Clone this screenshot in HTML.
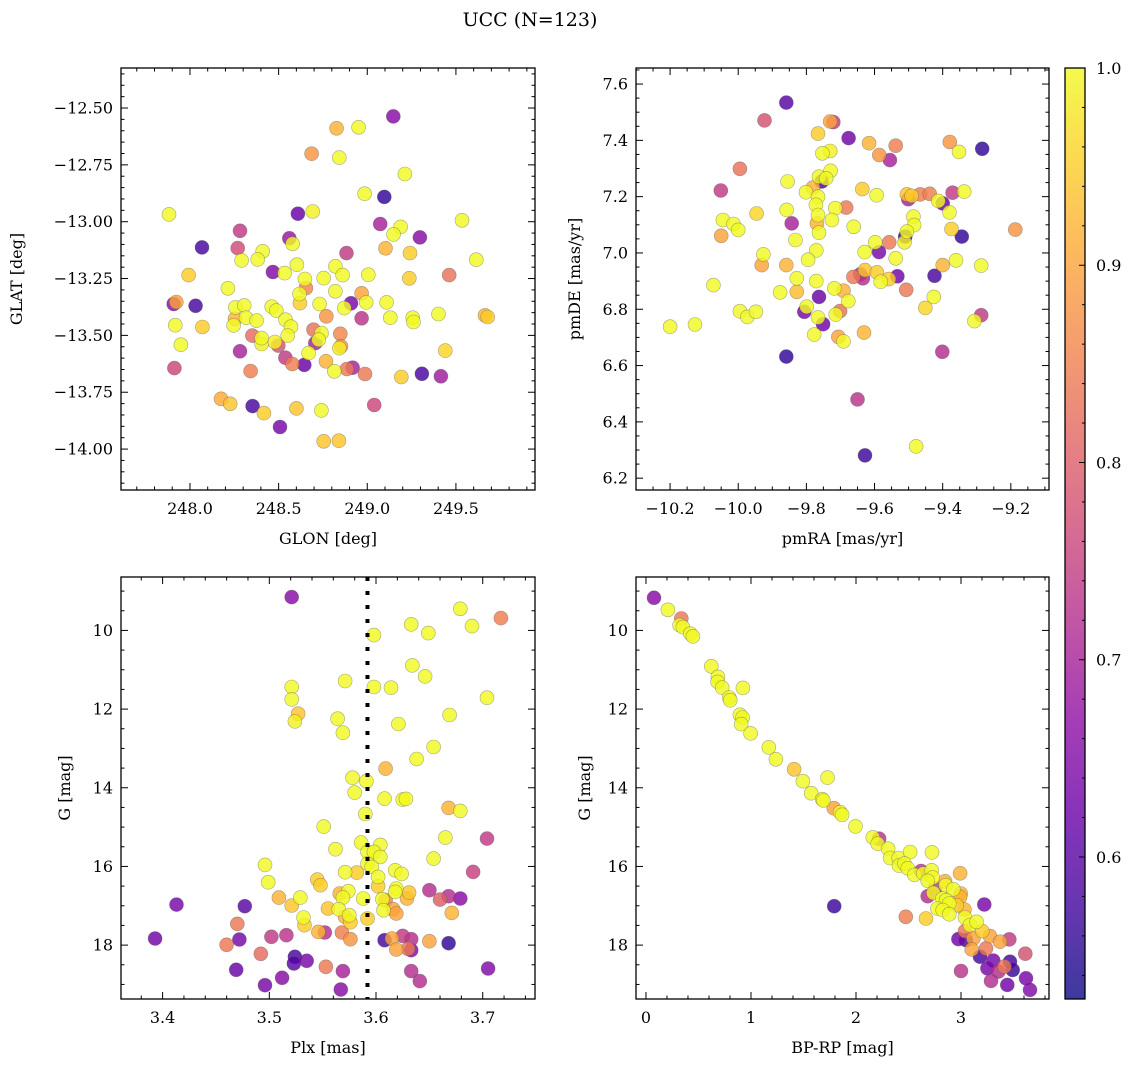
<!DOCTYPE html>
<html><head><meta charset="utf-8"><style>
html,body{margin:0;padding:0;background:#fff;}
svg text{font-family:"DejaVu Serif","Liberation Serif",serif;fill:#000;}
</style></head><body>
<svg id="fig" width="1136" height="1067" viewBox="0 0 1136 1067" xmlns="http://www.w3.org/2000/svg">
<defs>
<linearGradient id="plasma" x1="0" y1="1" x2="0" y2="0">
<stop offset="0" stop-color="#0d0887"/><stop offset="0.1" stop-color="#41049d"/><stop offset="0.2" stop-color="#6a00a8"/><stop offset="0.3" stop-color="#8f0da4"/><stop offset="0.4" stop-color="#b12a90"/><stop offset="0.5" stop-color="#cc4778"/><stop offset="0.6" stop-color="#e16462"/><stop offset="0.7" stop-color="#f2844b"/><stop offset="0.8" stop-color="#fca636"/><stop offset="0.9" stop-color="#fcce25"/><stop offset="1" stop-color="#f0f921"/>
</linearGradient>
</defs>
<text x="530" y="26" font-size="19" text-anchor="middle">UCC (N=123)</text>
</svg>
<script>
// ---- Panel 1 data: GLON / GLAT ----
const p1Lon=[249.147,248.827,248.951,248.686,248.842,249.212,248.985,249.096,247.882,248.609,248.692,249.534,249.073,249.188,249.148,249.297,248.282,248.068,248.560,248.579,248.269,248.410,248.382,248.291,248.883,249.103,249.241,249.615,247.992,248.468,248.534,248.603,248.820,248.861,249.006,249.462,248.754,248.648,248.654,249.237,248.214,248.820,248.618,248.620,248.968,248.908,248.994,249.109,248.731,248.870,247.908,247.923,248.032,248.256,248.306,248.461,248.487,248.254,248.316,248.376,248.539,248.570,248.769,248.968,249.130,249.256,249.261,249.402,249.664,249.679,247.917,248.070,248.246,248.352,248.404,248.404,248.479,248.498,248.551,248.697,248.742,248.707,248.726,248.848,248.852,248.842,247.949,248.282,248.669,248.538,248.577,248.645,248.767,248.814,248.885,248.917,248.987,249.192,249.308,249.415,249.440,247.912,248.342,248.175,248.227,248.353,248.417,248.600,248.741,249.039,248.508,248.754,248.840];
const p1Lat=[-12.537,-12.589,-12.585,-12.701,-12.718,-12.790,-12.877,-12.891,-12.968,-12.965,-12.955,-12.994,-13.010,-13.023,-13.056,-13.069,-13.040,-13.113,-13.073,-13.097,-13.116,-13.130,-13.166,-13.170,-13.138,-13.117,-13.138,-13.167,-13.235,-13.221,-13.226,-13.189,-13.196,-13.235,-13.233,-13.235,-13.248,-13.252,-13.292,-13.249,-13.293,-13.306,-13.318,-13.358,-13.315,-13.359,-13.355,-13.355,-13.362,-13.380,-13.362,-13.353,-13.370,-13.377,-13.368,-13.374,-13.391,-13.427,-13.422,-13.435,-13.431,-13.462,-13.416,-13.425,-13.422,-13.422,-13.441,-13.406,-13.412,-13.419,-13.455,-13.463,-13.456,-13.501,-13.512,-13.538,-13.529,-13.545,-13.501,-13.475,-13.490,-13.534,-13.519,-13.493,-13.548,-13.556,-13.541,-13.570,-13.578,-13.598,-13.626,-13.630,-13.614,-13.658,-13.648,-13.642,-13.670,-13.683,-13.669,-13.680,-13.567,-13.644,-13.657,-13.779,-13.801,-13.811,-13.842,-13.821,-13.830,-13.806,-13.903,-13.966,-13.963];
const p1Prob=[.66,.92,1,.88,1,1,1,.56,1,.62,.99,1,.70,1,1,.66,.74,.58,.68,1,.77,1,1,1,.74,.92,.95,1,.95,.65,1,1,1,1,1,.83,1,1,.86,.95,1,1,1,.95,.90,.64,1,1,1,1,.66,.90,.58,1,1,1,1,.92,1,1,1,1,.88,.73,1,1,1,1,.92,.95,1,.95,1,.82,1,.99,.99,.78,1,.83,1,.70,1,.86,.88,.99,1,.70,1,.74,.85,.62,.92,1,.84,.70,.84,.95,.58,.69,.96,.76,.85,.91,.94,.58,.95,.94,1,.76,.64,.94,.94];
// ---- Panel 2 data: pmRA / pmDE ----
const p2Ra=[-9.859,-9.923,-9.730,-9.721,-9.766,-9.676,-9.616,-9.538,-9.379,-9.352,-9.284,-9.753,-9.730,-9.586,-9.555,-9.995,-9.729,-9.763,-9.755,-9.742,-9.855,-10.051,-9.801,-9.781,-9.766,-9.636,-9.594,-9.501,-9.505,-9.491,-9.466,-9.438,-9.400,-9.413,-9.371,-9.337,-10.045,-10.014,-10.000,-10.050,-9.946,-9.858,-9.843,-9.772,-9.766,-9.769,-9.763,-9.715,-9.683,-9.725,-9.661,-9.832,-9.380,-9.374,-9.344,-9.486,-9.484,-9.510,-9.505,-9.512,-9.557,-9.598,-9.926,-9.931,-9.859,-9.771,-9.795,-9.629,-9.587,-9.538,-9.400,-9.361,-9.287,-10.073,-9.828,-9.771,-9.877,-9.828,-9.662,-9.642,-9.634,-9.628,-9.593,-9.582,-9.558,-9.533,-9.507,-9.424,-9.426,-9.451,-9.287,-9.307,-9.763,-9.718,-9.691,-9.677,-9.799,-9.806,-9.766,-9.751,-9.701,-9.714,-9.777,-9.706,-9.691,-9.631,-9.995,-9.973,-9.948,-10.200,-10.127,-9.859,-9.401,-9.650,-9.478,-9.628,-9.187];
const p2De=[7.534,7.471,7.467,7.465,7.424,7.408,7.390,7.381,7.394,7.359,7.370,7.354,7.362,7.348,7.330,7.299,7.292,7.271,7.254,7.265,7.254,7.222,7.216,7.232,7.200,7.227,7.205,7.191,7.208,7.203,7.208,7.210,7.176,7.185,7.214,7.218,7.117,7.103,7.082,7.061,7.140,7.153,7.105,7.171,7.135,7.105,7.072,7.159,7.161,7.117,7.093,7.046,7.144,7.085,7.058,7.129,7.099,7.058,7.076,7.038,7.038,7.038,6.995,6.957,6.957,7.009,6.976,7.003,7.003,6.981,6.957,6.974,6.955,6.886,6.910,6.900,6.860,6.862,6.915,6.924,6.910,6.939,6.931,6.898,6.907,6.917,6.869,6.919,6.844,6.805,6.779,6.758,6.844,6.874,6.866,6.829,6.809,6.791,6.771,6.747,6.794,6.781,6.710,6.702,6.686,6.717,6.793,6.773,6.791,6.738,6.746,6.632,6.649,6.480,6.313,6.281,7.083];
const p2Prob=[.60,.78,.90,.74,.95,.63,.92,.85,.88,1,.56,1,.99,.88,.70,.83,1,1,.58,1,1,.74,1,.92,1,.95,1,.70,.94,.95,.85,.85,.62,1,.74,1,1,1,1,.90,.96,1,.70,1,1,.92,1,1,.84,1,1,1,1,.95,.56,1,1,.57,1,.99,.84,1,1,.90,.92,1,1,1,.64,1,.92,1,1,1,1,1,1,.93,.84,.72,.72,.94,.95,1,.95,.63,.84,.58,1,.96,.74,1,.62,1,.92,1,1,.64,1,.63,.83,1,1,.90,1,.92,1,1,1,1,1,.56,.72,.73,1,.57,.88];
// ---- Panel 3 data: Plx / G ----
const p3Plx=[3.521,3.679,3.717,3.633,3.690,3.649,3.598,3.634,3.646,3.571,3.521,3.598,3.614,3.704,3.521,3.527,3.524,3.564,3.569,3.669,3.621,3.654,3.638,3.609,3.578,3.591,3.580,3.608,3.625,3.628,3.668,3.679,3.590,3.551,3.665,3.704,3.586,3.604,3.562,3.592,3.598,3.604,3.654,3.592,3.596,3.496,3.691,3.571,3.582,3.618,3.624,3.602,3.499,3.545,3.548,3.602,3.619,3.618,3.631,3.629,3.650,3.574,3.566,3.569,3.588,3.606,3.609,3.660,3.668,3.679,3.509,3.529,3.413,3.477,3.521,3.555,3.565,3.607,3.616,3.619,3.671,3.571,3.575,3.576,3.532,3.533,3.592,3.470,3.546,3.552,3.568,3.576,3.393,3.472,3.502,3.516,3.460,3.608,3.615,3.625,3.633,3.650,3.668,3.619,3.630,3.633,3.492,3.524,3.523,3.535,3.469,3.553,3.569,3.633,3.705,3.641,3.512,3.496,3.567];
const p3G=[9.153,9.450,9.687,9.848,9.890,10.068,10.119,10.889,11.169,11.287,11.439,11.439,11.456,11.710,11.753,12.117,12.312,12.244,12.600,12.151,12.379,12.964,13.268,13.514,13.743,13.836,14.124,14.276,14.301,14.284,14.513,14.589,14.666,14.987,15.267,15.292,15.394,15.453,15.563,15.631,15.631,15.758,15.800,15.927,16.012,15.961,16.139,16.147,16.156,16.097,16.190,16.266,16.401,16.334,16.478,16.503,16.562,16.647,16.664,16.816,16.605,16.630,16.689,16.791,16.816,16.833,16.859,16.842,16.757,16.816,16.791,16.791,16.969,17.011,16.994,17.070,17.087,17.113,17.087,17.197,17.180,17.282,17.240,17.417,17.299,17.494,17.324,17.460,17.663,17.680,17.680,17.849,17.832,17.858,17.790,17.748,17.993,17.875,17.832,17.765,17.849,17.900,17.951,18.112,18.095,18.129,18.222,18.298,18.467,18.400,18.628,18.552,18.662,18.662,18.594,18.916,18.832,19.018,19.128];
const p3Prob=[.66,1,.85,1,1,1,1,1,1,1,1,1,1,1,1,.94,.99,1,1,1,1,1,1,.92,1,1,1,1,1,1,.92,1,1,1,1,.74,1,1,1,1,1,1,1,1,1,1,.75,1,.95,1,1,1,1,.95,.95,.95,1,1,.94,.92,.72,1,.92,1,1,1,.86,.80,.72,.66,.92,1,.64,.60,.94,.94,1,1,.90,.90,.92,.92,1,.95,1,.95,.95,.84,.92,.72,.85,.88,.63,.64,.74,.73,.84,.58,.90,.74,.72,.90,.56,.90,.84,.65,.82,.58,.60,.64,.62,.84,.70,.72,.65,.72,.66,.64,.66];
const plxMean=3.592;
// ---- Panel 4 data: BP-RP / G ----
const p4Col=[0.076,0.209,0.336,0.320,0.352,0.422,0.447,0.622,0.685,0.682,0.726,0.923,0.793,0.802,0.894,0.920,0.907,0.996,1.170,1.237,1.411,1.494,1.729,1.573,1.678,1.690,1.789,1.849,1.868,1.995,2.160,2.220,2.207,2.306,2.325,2.407,2.515,2.724,2.410,2.461,2.493,2.556,2.620,2.642,2.721,2.731,2.683,2.991,2.753,2.683,2.737,2.848,2.854,2.927,2.997,2.991,2.823,2.858,2.889,2.959,2.775,2.826,2.889,3.032,3.038,3.086,3.149,3.222,2.474,2.667,1.792,3.203,3.038,3.276,3.118,2.975,3.048,3.371,3.460,3.102,3.238,3.181,3.308,3.467,3.492,3.251,3.356,3.413,3.000,3.612,3.619,3.286,3.441,3.657];
const p4G=[9.172,9.476,9.696,9.865,9.916,10.084,10.152,10.912,11.182,11.309,11.453,11.461,11.706,11.774,12.145,12.213,12.382,12.618,12.973,13.277,13.530,13.834,13.742,14.139,14.291,14.324,14.519,14.620,14.688,14.983,15.262,15.296,15.422,15.549,15.785,15.785,15.633,15.642,15.980,15.929,16.047,16.216,16.115,16.182,16.098,16.284,16.368,16.174,16.563,16.757,16.672,16.377,16.478,16.579,16.689,16.774,16.816,16.858,16.943,16.985,17.069,17.111,17.213,17.095,17.297,17.492,17.407,16.968,17.280,17.323,17.010,17.644,17.644,17.770,17.829,17.846,17.872,17.914,17.855,18.108,18.083,18.294,18.395,18.421,18.632,18.590,18.674,18.547,18.657,18.218,18.843,18.910,19.012,19.139];
const p4Prob=[.66,1,.84,1,1,1,1,1,1,1,1,1,1,1,1,1,1,1,1,1,.94,1,1,1,1,1,.90,1,1,1,1,.73,1,1,1,1,1,1,1,1,1,1,.73,1,1,1,1,.92,.74,.72,1,.92,1,1,.92,.92,1,1,1,.95,1,1,1,.92,1,1,1,.64,.85,.95,.57,.95,.84,.90,.90,.63,.58,.90,.74,.90,.84,.58,.64,.58,.57,.64,.72,.84,.73,.78,.64,.72,.63,.65];
// ---- Colorbar ----
const cbTicks=[0.6,0.7,0.8,0.9,1.0];
const vmin=0.528, vmax=1.0;

const NS="http://www.w3.org/2000/svg";
const svg=document.getElementById('fig');
function mk(tag,attrs,parent){const e=document.createElementNS(NS,tag);for(const k in attrs)e.setAttribute(k,attrs[k]);(parent||svg).appendChild(e);return e;}
const stops=[[13,8,135],[65,4,157],[106,0,168],[143,13,164],[177,42,144],[204,71,120],[225,100,98],[242,132,75],[252,166,54],[252,206,37],[240,249,33]];
function plasma(p){let t=(p-vmin)/(vmax-vmin);t=Math.max(0,Math.min(1,t))*10;const i=Math.min(9,Math.floor(t)),f=t-i;const a=stops[i],b=stops[i+1];return 'rgb('+a.map((v,k)=>Math.round(v+(b[k]-v)*f)).join(',')+')';}
function fmt(v,d){const s=Math.abs(v).toFixed(d);return (v<-1e-9?'\u2212':'')+s;}

function panel(cfg){
  const g=mk('g',{});
  
  
  const L=cfg.x0,R=cfg.x1,T=cfg.y0,B=cfg.y1;
  const sx=v=>L+(v-cfg.xd[0])/(cfg.xd[1]-cfg.xd[0])*(R-L);
  const sy=cfg.yinv?(v=>T+(v-cfg.yd[0])/(cfg.yd[1]-cfg.yd[0])*(B-T)):(v=>B-(v-cfg.yd[0])/(cfg.yd[1]-cfg.yd[0])*(B-T));
  const lo=Math.min(cfg.yd[0],cfg.yd[1]),hi=Math.max(cfg.yd[0],cfg.yd[1]);
  const pg=mk('g',{},g);
  
  
  const idx=cfg.xs.map((_,i)=>i).sort((a,b)=>cfg.ps[a]-cfg.ps[b]);
  idx.forEach(i=>{
    const c=mk('circle',{cx:sx(cfg.xs[i]).toFixed(1),cy:sy(cfg.ys[i]).toFixed(1),r:7,fill:plasma(cfg.ps[i]),'fill-opacity':0.82,stroke:'#555','stroke-opacity':0.5,'stroke-width':0.6},pg);
    
    
  });
  if(cfg.extra)cfg.extra(g,sx,sy);
  const tk=mk('g',{stroke:'#000','stroke-width':1},g);
  
  
  const e=1e-6;
  for(let v=Math.ceil(cfg.xd[0]/cfg.xmin-e)*cfg.xmin;v<=cfg.xd[1]+e;v+=cfg.xmin){
    const x=sx(v);const maj=Math.abs(v/cfg.xmaj-Math.round(v/cfg.xmaj))<1e-4;const len=maj?7:3.5;
    mk('line',{x1:x,y1:B,x2:x,y2:B-len},tk);mk('line',{x1:x,y1:T,x2:x,y2:T+len},tk);
  }
  for(let v=Math.ceil(lo/cfg.ymin-e)*cfg.ymin;v<=hi+e;v+=cfg.ymin){
    const y=sy(v);const maj=Math.abs(v/cfg.ymaj-Math.round(v/cfg.ymaj))<1e-4;const len=maj?7:3.5;
    mk('line',{x1:L,y1:y,x2:L+len,y2:y},tk);mk('line',{x1:R,y1:y,x2:R-len,y2:y},tk);
  }
  cfg.xticks.forEach(v=>{const t=mk('text',{x:sx(v),y:B+24,'font-size':16,'text-anchor':'middle'},g);t.textContent=fmt(v,cfg.xdec);
    
    });
  cfg.yticks.forEach(v=>{const t=mk('text',{x:L-8,y:sy(v)+5.5,'font-size':16,'text-anchor':'end'},g);t.textContent=fmt(v,cfg.ydec);
    
    });
  const f=mk('rect',{x:L,y:T,width:R-L,height:B-T,fill:'none',stroke:'#000','stroke-width':1.3},g);
  
  
  const xl=mk('text',{x:(L+R)/2,y:B+54,'font-size':16,'text-anchor':'middle'},g);xl.textContent=cfg.xlabel;
  
  
  const yl=mk('text',{x:cfg.ylx,y:(T+B)/2,'font-size':16,'text-anchor':'middle',transform:'rotate(-90 '+cfg.ylx+' '+(T+B)/2+')'},g);yl.textContent=cfg.ylabel;
  
  
}
panel({name:'sky-position-panel',x0:121,x1:535,y0:68,y1:490,xd:[247.611,249.946],yd:[-14.18,-12.324],xs:p1Lon,ys:p1Lat,ps:p1Prob,xmaj:0.5,xmin:0.1,ymaj:0.25,ymin:0.05,xticks:[248.0,248.5,249.0,249.5],yticks:[-12.5,-12.75,-13.0,-13.25,-13.5,-13.75,-14.0],xdec:1,ydec:2,xlabel:'GLON [deg]',ylabel:'GLAT [deg]',ylx:22});
panel({name:'proper-motion-panel',x0:636,x1:1049,y0:68,y1:490,xd:[-10.30,-9.088],yd:[6.158,7.657],xs:p2Ra,ys:p2De,ps:p2Prob,xmaj:0.2,xmin:0.05,ymaj:0.2,ymin:0.05,xticks:[-10.2,-10.0,-9.8,-9.6,-9.4,-9.2],yticks:[6.2,6.4,6.6,6.8,7.0,7.2,7.4,7.6],xdec:1,ydec:1,xlabel:'pmRA [mas/yr]',ylabel:'pmDE [mas/yr]',ylx:580});
panel({name:'parallax-panel',x0:121,x1:535,y0:577,y1:999,xd:[3.361,3.749],yd:[8.642,19.37],yinv:true,xs:p3Plx,ys:p3G,ps:p3Prob,xmaj:0.1,xmin:0.02,ymaj:2,ymin:0.5,xticks:[3.4,3.5,3.6,3.7],yticks:[10,12,14,16,18],xdec:1,ydec:0,xlabel:'Plx [mas]',ylabel:'G [mag]',ylx:70,
  extra:(g,sx,sy)=>{const l=mk('line',{x1:sx(plxMean),y1:577,x2:sx(plxMean),y2:999,stroke:'#000','stroke-width':4,'stroke-dasharray':'4 10'},g);
    
    }});
panel({name:'cmd-panel',x0:636,x1:1049,y0:577,y1:999,xd:[-0.095,3.838],yd:[8.642,19.37],yinv:true,xs:p4Col,ys:p4G,ps:p4Prob,xmaj:1,xmin:0.2,ymaj:2,ymin:0.5,xticks:[0,1,2,3],yticks:[10,12,14,16,18],xdec:0,ydec:0,xlabel:'BP-RP [mag]',ylabel:'G [mag]',ylx:590});
(function(){
  const g=mk('g',{});
  
  
  const L=1065,R=1085,T=68,B=999;
  const sy=v=>B-(v-vmin)/(vmax-vmin)*(B-T);
  mk('rect',{x:L,y:T,width:R-L,height:B-T,fill:'url(#plasma)','fill-opacity':0.8},g);
  for(let v=0.54;v<=1.0001;v+=0.02){const maj=Math.abs(v*10-Math.round(v*10))<1e-4;mk('line',{x1:R,y1:sy(v),x2:R-(maj?6:3),y2:sy(v),stroke:'#000','stroke-width':1},g);}
  cbTicks.forEach(v=>{const t=mk('text',{x:R+11,y:sy(v)+6,'font-size':16},g);t.textContent=v.toFixed(1);
    
    });
  mk('rect',{x:L,y:T,width:R-L,height:B-T,fill:'none',stroke:'#000','stroke-width':1.3},g);
})();
</script>
</body></html>
